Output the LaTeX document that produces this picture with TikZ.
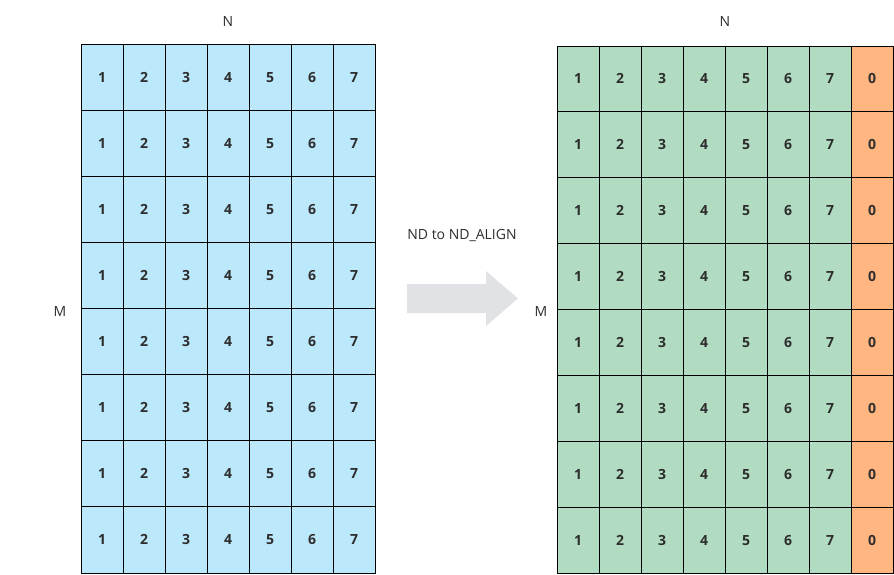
\documentclass[tikz,border=0pt]{standalone}
\usepackage{fontspec}
\setmainfont{Open Sans}
\usetikzlibrary{positioning}
\definecolor{cellblue}{RGB}{187,232,251}
\definecolor{cellgreen}{RGB}{177,220,194}
\definecolor{cellorange}{RGB}{255,182,128}
\definecolor{arrowgray}{RGB}{225,226,230}
\definecolor{textgray}{RGB}{45,45,45}
\begin{document}
\begin{tikzpicture}[x=1pt, y=-1pt, font=\fontsize{14}{16}\selectfont, line join=round,
	cell/.style={draw=black, line width=1pt, minimum width=42pt, inner sep=0pt,
		text height=10pt, text depth=0pt,
		font=\fontsize{14}{16}\selectfont\bfseries, text=textgray},
	lbl/.style={text=textgray}]
	\useasboundingbox (0,0) rectangle (894,574);
	\begin{scope}
		\def \xmin{81}
		\def \ymin{44}
		\def \rh{66.125}
		\foreach \r in {1,...,8}
		\foreach \c in {1,...,7}
		\node[cell, fill=cellblue, minimum height=\rh pt] (L-\r-\c) at ({\xmin+42*(\c-0.5)},{\ymin+\rh*(\r-0.5)}) {\c};
		\node[lbl] (NL) at (228,21) {N};
		\node[lbl] (ML) at (60,311) {M};
	\end{scope}
	\begin{scope}
		\def \xmin{557}
		\def \ymin{46}
		\def \rh{65.875}
		\foreach \r in {1,...,8}{
			\foreach \c in {1,...,7}
			\node[cell, fill=cellgreen, minimum height=\rh pt] (R-\r-\c) at ({\xmin+42*(\c-0.5)},{\ymin+\rh*(\r-0.5)}) {\c};
			\node[cell, fill=cellorange, minimum height=\rh pt] (R-\r-8) at ({\xmin+42*7.5},{\ymin+\rh*(\r-0.5)}) {0};
		}
		\node[lbl] (NR) at (725,21) {N};
		\node[lbl] (MR) at (541,311) {M};
	\end{scope}
	% conversion arrow
	\fill[arrowgray] (407,284) -- (486,284) -- (486,271) -- (518,298.5) -- (486,326) -- (486,313) -- (407,313) -- cycle;
	\node[lbl] (conv) at (462,236) {ND to ND\_ALIGN};
\end{tikzpicture}
\end{document}
